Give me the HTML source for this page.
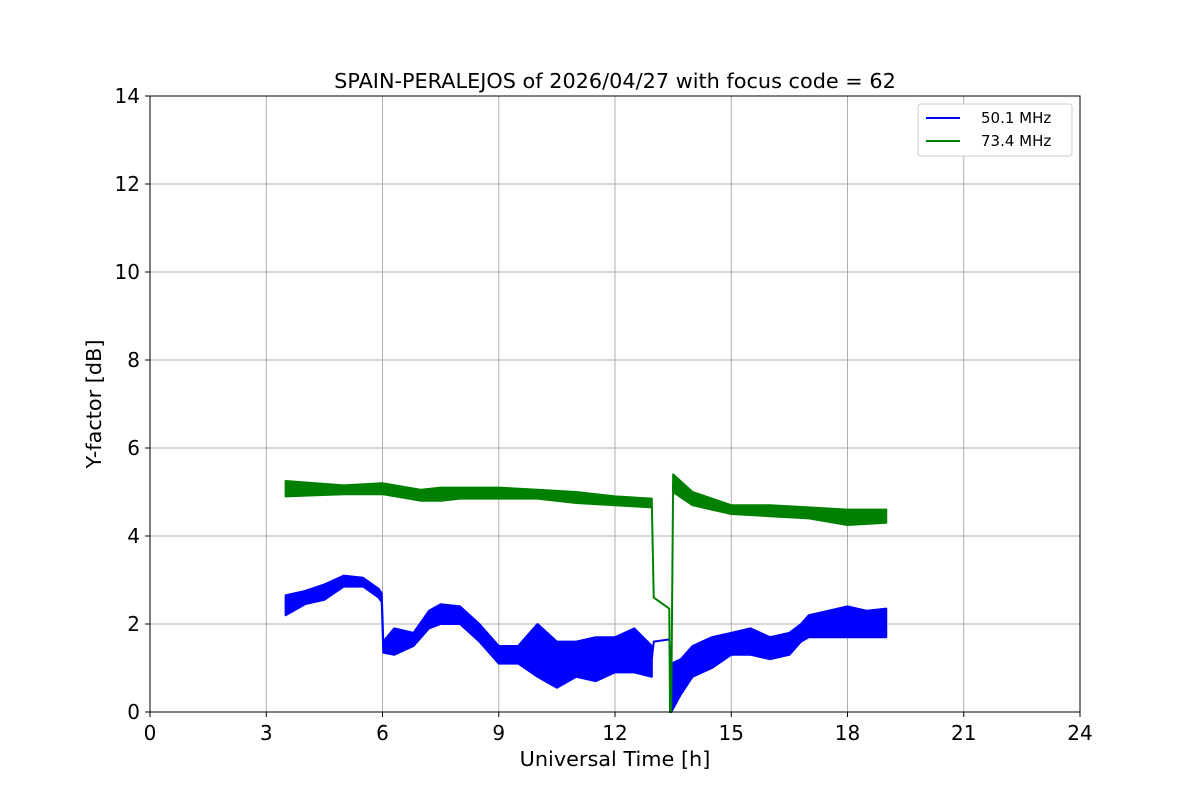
<!DOCTYPE html>
<html><head><meta charset="utf-8"><style>
body{margin:0;background:#fff}
svg text{font-family:"DejaVu Sans","Liberation Sans",sans-serif}
</style></head><body>
<svg id="c" width="1200" height="800" xmlns="http://www.w3.org/2000/svg">
<rect width="1200" height="800" fill="#fff"/>
<g id="grid"></g><g id="series"></g>
<rect x="150" y="96" width="930" height="616" fill="none" stroke="#000" stroke-width="1"/>
<g id="ticks"></g>
<text x="615" y="88" font-size="20.8" text-anchor="middle">SPAIN-PERALEJOS of 2026/04/27 with focus code = 62</text>
<text x="615" y="766" font-size="20.8" text-anchor="middle">Universal Time [h]</text>
<text transform="translate(101,404) rotate(-90)" font-size="20.8" text-anchor="middle">Y-factor [dB]</text>
<g>
<rect x="918" y="104" width="154" height="52" rx="3" fill="#fff" stroke="#ccc"/>
<line x1="926" y1="118" x2="960" y2="118" stroke="#0000ff" stroke-width="2"/>
<text x="981" y="123" font-size="15">50.1 MHz</text>
<line x1="926" y1="141" x2="960" y2="141" stroke="#008000" stroke-width="2"/>
<text x="981" y="146" font-size="15">73.4 MHz</text>
</g>
</svg>
<script>
const xTicks=[0,3,6,9,12,15,18,21,24];
const yTicks=[0,2,4,6,8,10,12,14];
const blueT=[3.5,4,4.5,5,5.5,5.9,5.98,6.02,6.3,6.8,7.2,7.5,8,8.5,9,9.5,10,10.5,11,11.5,12,12.5,12.95];
const blueLo=[2.2,2.45,2.55,2.85,2.85,2.6,2.5,1.35,1.3,1.5,1.9,2.0,2.0,1.6,1.1,1.1,0.8,0.55,0.8,0.7,0.9,0.9,0.8];
const blueHi=[2.65,2.75,2.9,3.1,3.05,2.8,2.7,1.6,1.9,1.8,2.3,2.45,2.4,2.0,1.5,1.5,2.0,1.6,1.6,1.7,1.7,1.9,1.5];
const blueT2=[13.45,13.7,14,14.5,15,15.5,16,16.5,16.8,17,17.5,18,18.5,19];
const blueLo2=[0,0.4,0.8,1.0,1.3,1.3,1.2,1.3,1.6,1.7,1.7,1.7,1.7,1.7];
const blueHi2=[1.1,1.2,1.5,1.7,1.8,1.9,1.7,1.8,2.0,2.2,2.3,2.4,2.3,2.35];
const blueLinkT=[12.95,13.0,13.4,13.45];
const blueLinkV=[1.2,1.6,1.65,1.1];
const greenT=[3.5,5,6,7,7.5,8,9,10,11,12,12.95];
const greenLo=[4.9,4.95,4.95,4.8,4.8,4.85,4.85,4.85,4.75,4.7,4.65];
const greenHi=[5.25,5.15,5.2,5.05,5.1,5.1,5.1,5.05,5.0,4.9,4.85];
const greenT2=[13.5,14,15,16,17,18,19];
const greenLo2=[5.0,4.7,4.5,4.45,4.4,4.25,4.3];
const greenHi2=[5.4,5.0,4.7,4.7,4.65,4.6,4.6];
const greenLinkT=[12.95,13.0,13.4,13.42,13.45,13.5];
const greenLinkV=[4.75,2.6,2.35,0,0,5.2];
const X=t=>150+t*930/24, Y=v=>712-v*616/14;
const NS="http://www.w3.org/2000/svg";
const grid=document.getElementById('grid'),ticks=document.getElementById('ticks'),ser=document.getElementById('series');
function mk(tag,attrs,parent){const e=document.createElementNS(NS,tag);for(const k in attrs)e.setAttribute(k,attrs[k]);parent.appendChild(e);return e;}
xTicks.forEach(t=>{
 const g=mk('line',{x1:X(t),x2:X(t),y1:96,y2:712,stroke:'#b0b0b0','stroke-width':1},grid);
 
 
 mk('line',{x1:X(t),x2:X(t),y1:712,y2:717,stroke:'#000'},ticks);
 const tx=mk('text',{x:X(t),y:740,'font-size':20,'text-anchor':'middle'},ticks);tx.textContent=t;
 
 
});
yTicks.forEach(v=>{
 const g=mk('line',{x1:150,x2:1080,y1:Y(v),y2:Y(v),stroke:'#b0b0b0','stroke-width':1},grid);
 
 
 mk('line',{x1:145,x2:150,y1:Y(v),y2:Y(v),stroke:'#000'},ticks);
 const tx=mk('text',{x:140,y:Y(v)+7,'font-size':20,'text-anchor':'end'},ticks);tx.textContent=v;
 
 
});
function band(T,lo,hi,col,name){
 let d='M'+T.map((t,i)=>X(t)+','+Y(hi[i])).join('L')+'L'+T.map((t,i)=>X(t)+','+Y(lo[i])).reverse().join('L')+'Z';
 const p=mk('path',{d:d,fill:col,stroke:col,'stroke-width':2,'stroke-linejoin':'round'},ser);
 
 
}
function line(T,V,col,name){
 const p=mk('path',{d:'M'+T.map((t,i)=>X(t)+','+Y(V[i])).join('L'),fill:'none',stroke:col,'stroke-width':2},ser);
 
 
}
band(blueT,blueLo,blueHi,'#0000ff','series-50mhz-a');
band(blueT2,blueLo2,blueHi2,'#0000ff','series-50mhz-b');
line(blueLinkT,blueLinkV,'#0000ff','series-50mhz-gap');
band(greenT,greenLo,greenHi,'#008000','series-73mhz-a');
band(greenT2,greenLo2,greenHi2,'#008000','series-73mhz-b');
line(greenLinkT,greenLinkV,'#008000','series-73mhz-gap');
</script>
</body></html>
